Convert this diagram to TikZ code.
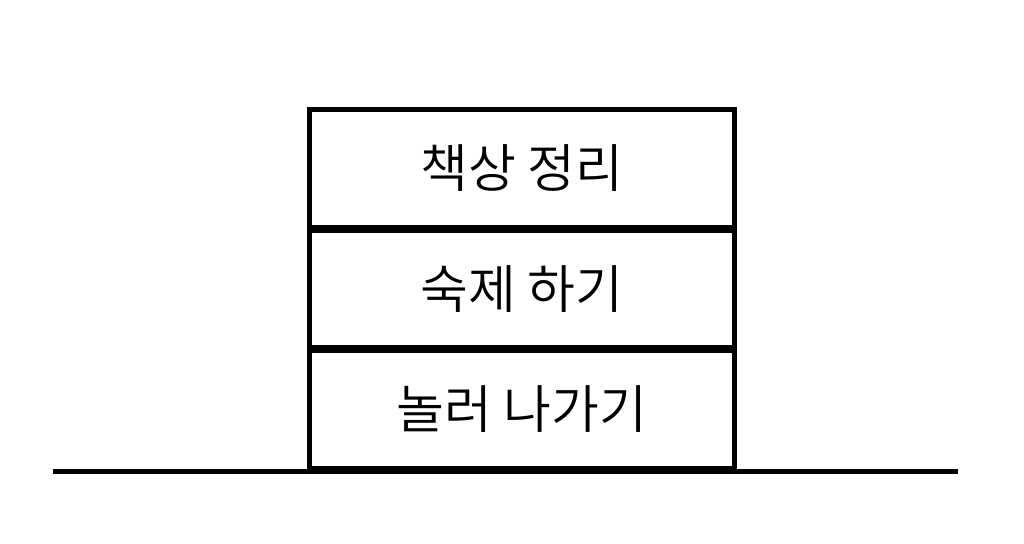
\documentclass[tikz,border=0pt]{standalone}
\usepackage{fontspec}
\newfontfamily\kr{Noto Sans CJK KR DemiLight}
\begin{document}
\begin{tikzpicture}[x=1pt,y=-1pt,
  stackbox/.style={draw=black,line width=5pt,fill=white,minimum width=425pt,minimum height=117.5pt,inner sep=0pt,outer sep=0pt,anchor=north west,font=\kr\fontsize{52}{58}\selectfont}]
\useasboundingbox (0,0) rectangle (1024,543);
\coordinate (gl) at (53,471.5);
\coordinate (gr) at (958,471.5);
\node[stackbox] (b1) at (309.5,109.5) {책상 정리};
\node[stackbox] (b2) at (309.5,230) {숙제 하기};
\node[stackbox] (b3) at (309.5,350.5) {놀러 나가기};
\draw[line width=5pt] (gl) -- (gr);
\end{tikzpicture}
\end{document}
